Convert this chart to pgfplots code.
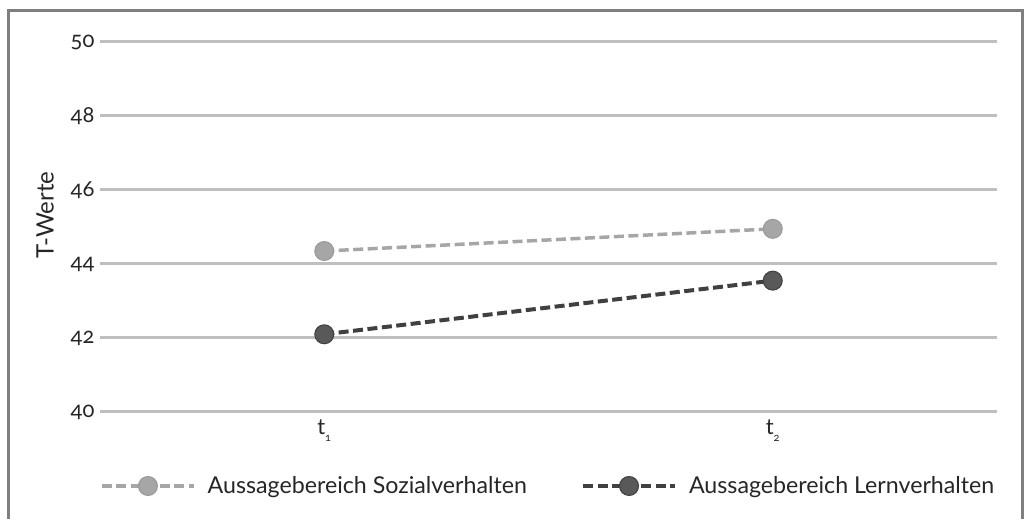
\documentclass[border=0pt]{standalone}
\usepackage{fontspec}
\setmainfont{Lato}[Numbers=OldStyle]
\usepackage{pgfplots}
\pgfplotsset{compat=1.18}
\definecolor{gridc}{HTML}{BFBFBF}
\definecolor{sozc}{HTML}{A6A6A6}
\definecolor{sozedge}{HTML}{9A9A9A}
\definecolor{lernc}{HTML}{404040}
\definecolor{lernfill}{HTML}{595959}
\definecolor{framec}{HTML}{7F7F7F}
\begin{document}
\begin{tikzpicture}[x=1bp,y=1bp]
\begin{axis}[
  at={(100bp,107bp)}, anchor=south west,
  scale only axis, width=897bp, height=370bp,
  xmin=-0.5, xmax=1.5, ymin=40, ymax=50,
  xtick={0,1}, xticklabels={t\raisebox{-7bp}{\fontsize{11bp}{12bp}\selectfont 1}, t\raisebox{-7bp}{\fontsize{11bp}{12bp}\selectfont 2}},
  ytick={40,42,44,46,48,50},
  /pgf/number format/assume math mode=true,
  tick style={draw=none},
  axis line style={draw=none},
  ymajorgrids, grid style={gridc, line width=3bp},
  tick label style={font=\fontsize{22bp}{26bp}\selectfont, text=black!85},
  yticklabel style={xshift=-2bp},
  xticklabel style={yshift=-4bp},
  ylabel={T-Werte},
  ylabel style={at={(rel axis cs:-0.0613,0.532)}, anchor=center, font=\fontsize{24bp}{28bp}\selectfont, text=black!85},
  legend columns=2,
  legend style={at={(rel axis cs:0,-0.2)}, anchor=west, draw=none, fill=none, inner sep=0pt,
    font=\fontsize{23.2bp}{27bp}\selectfont, text=black!85,
    nodes={inner sep=0pt},
    /tikz/every odd column/.style={column sep=12bp},
    /tikz/every even column/.style={column sep=54bp}},
  legend image code/.code={\draw[mark repeat=2, mark phase=2, #1] plot coordinates {(0bp,0bp) (46bp,0bp) (92bp,0bp)};},
  clip=false,
]
\addplot[sozc, line width=3.5bp, dash pattern=on 10bp off 4.5bp, mark=*, mark size=9.5bp,
  mark options={solid, fill=sozc, draw=sozedge, line width=1bp}]
  coordinates {(0,44.35) (1,44.95)};
\addlegendentry{Aussagebereich Sozialverhalten}
\addplot[lernc, line width=4bp, dash pattern=on 10bp off 4.5bp, mark=*, mark size=9.5bp,
  mark options={solid, fill=lernfill, draw=lernc, line width=1bp}]
  coordinates {(0,42.1) (1,43.55)};
\addlegendentry{Aussagebereich Lernverhalten}
\end{axis}
\draw[framec, line width=3bp] (8,-10) -- (8,508) -- (1022,508) -- (1022,-10);
\pgfresetboundingbox
\useasboundingbox (0,0) rectangle (1028,519);
\end{tikzpicture}
\end{document}
